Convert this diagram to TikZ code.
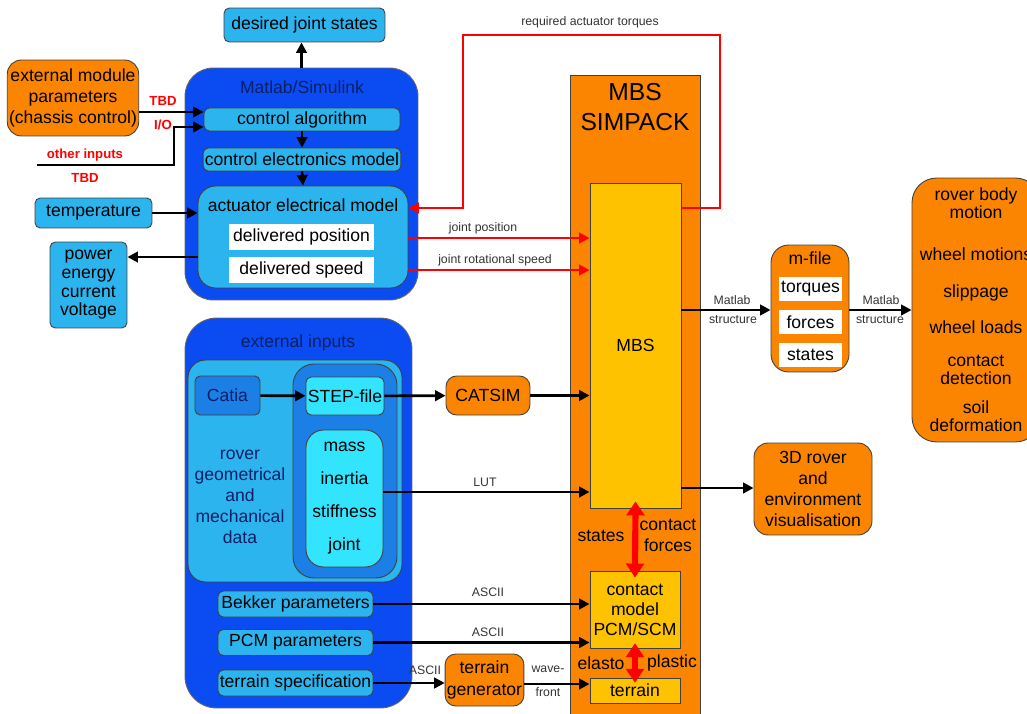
\documentclass[tikz,border=0pt]{standalone}
\usepackage{fontspec}
\setmainfont{Liberation Sans}
\usetikzlibrary{arrows.meta, positioning, calc}
\definecolor{simblue}{HTML}{0A4CF2}
\definecolor{lightblue}{HTML}{2CB4EE}
\definecolor{midblue}{HTML}{1C7FE6}
\definecolor{aqua}{HTML}{33E4FF}
\definecolor{simorange}{HTML}{FB8500}
\definecolor{simyellow}{HTML}{FFC200}
\definecolor{navy}{HTML}{0B1F66}
\begin{document}
\begin{tikzpicture}[x=0.02cm, y=-0.02cm,
    bx/.style={draw=black!75, line width=0.5pt, rounded corners=3pt, inner sep=1pt, align=center, font=\fontsize{10}{12}\selectfont},
    lb/.style={bx, fill=lightblue},
    ob/.style={bx, fill=simorange},
    yb/.style={bx, fill=simyellow, rounded corners=0pt},
    wb/.style={bx, fill=white, draw=none, rounded corners=0pt},
    grp/.style={draw=black!60, fill=simblue, line width=0.5pt},
    txt/.style={align=center, font=\fontsize{10}{12}\selectfont},
    ttl/.style={txt, text=navy},
    lab/.style={align=center, font=\fontsize{7}{8}\selectfont, text=black!80},
    tbd/.style={font=\fontsize{7.5}{9}\selectfont\bfseries, text=red},
    arr/.style={-{Triangle[length=6pt,width=6pt]}, line width=1.5pt},
    rarr/.style={arr, red},
    dbl/.style={{Triangle[length=8pt,width=10pt]}-{Triangle[length=8pt,width=10pt]}, line width=3.5pt, red}]
    \useasboundingbox (0,0) rectangle (1027,713);
    % Matlab/Simulink part
    \node[lb, minimum width=3.22cm, minimum height=0.68cm] (des) at (304.5,25) {desired joint states};
    \node[grp, rounded corners=16pt, minimum width=4.66cm, minimum height=4.64cm] (sim) at (301.5,184) {};
    \node[ttl] (simt) at (302,87) {Matlab/Simulink};
    \node[lb, minimum width=3.92cm, minimum height=0.46cm] (ctrl) at (302,119.5) {control algorithm};
    \node[lb, minimum width=3.92cm, minimum height=0.46cm] (elec) at (302,159.5) {control electronics model};
    \node[lb, rounded corners=10pt, minimum width=4.2cm, minimum height=2.04cm] (act) at (303,237) {};
    \node[txt] (actt) at (303,205) {actuator electrical model};
    \node[wb, minimum width=2.9cm, minimum height=0.52cm] (dpos) at (301.5,237) {delivered position};
    \node[wb, minimum width=2.9cm, minimum height=0.52cm] (dspd) at (301.5,270) {delivered speed};
    \draw[arr] (sim.north) -- (sim.north |- des.south);
    \draw[arr] (ctrl.south) -- (elec.north);
    \draw[arr] (elec.south) -- (act.north);
    % inputs and outputs on the left
    \node[ob, rounded corners=8pt, minimum width=2.6cm, minimum height=1.52cm] (ext) at (73,98) {external module\\parameters\\(chassis control)};
    \draw[arr] (ext.east |- 0,112) -- (ctrl.west |- 0,112);
    \node[tbd] (tbda) at (163,101) {TBD};
    \node[tbd] (io) at (163,125) {I/O};
    \coordinate (oin) at (37,165);
    \draw[arr] (oin) -| (174,127) -- (ctrl.west |- 0,127);
    \node[tbd] (othr) at (85,155) {other inputs};
    \node[tbd] (tbdb) at (85,178) {TBD};
    \node[lb, minimum width=2.34cm, minimum height=0.6cm] (temp) at (93.5,213) {temperature};
    \draw[arr] (temp) -- (temp -| act.west);
    \node[lb, minimum width=1.54cm, minimum height=1.72cm, font=\fontsize{10}{10.6}\selectfont] (pow) at (88.5,285) {power\\energy\\current\\voltage};
    \draw[arr] (act.west |- 0,257) -- (pow.east |- 0,257);
    % MBS SIMPACK column
    \node[ob, rounded corners=0pt, minimum width=2.6cm, minimum height=12.9cm] (simp) at (635,397.5) {};
    \node[align=center, font=\fontsize{14}{17}\selectfont] (simpt) at (635,107) {MBS\\SIMPACK};
    \node[yb, minimum width=1.82cm, minimum height=6.5cm] (mbs) at (635.5,345.5) {MBS};
    \node[yb, minimum width=1.8cm, minimum height=1.54cm, font=\fontsize{10}{11.4}\selectfont] (cm) at (635,609.5) {contact\\model\\PCM/SCM};
    \node[yb, minimum width=1.8cm, minimum height=0.5cm] (ter) at (635,690.5) {terrain};
    \draw[dbl, shorten <=-4pt, shorten >=-4pt] (mbs.south) -- (cm.north);
    \draw[dbl, shorten <=-3pt, shorten >=-3pt] (cm.south) -- (ter.north);
    \node[txt] (stat) at (601,536) {states};
    \node[txt] (cforce) at (668,535) {contact\\forces};
    \node[txt] (elast) at (601,663) {elasto};
    \node[txt] (plast) at (672,663) {plastic};
    % red signals
    \draw[rarr] (mbs.east |- 0,208) -| (720,35) -| (463,208) -- (act.east |- 0,208);
    \node[lab] (reqt) at (590,22) {required actuator torques};
    \draw[rarr] (act.east |- 0,238) -- (mbs.west |- 0,238);
    \node[lab] (jpos) at (483,228) {joint position};
    \draw[rarr] (act.east |- 0,270) -- (mbs.west |- 0,270);
    \node[lab] (jspd) at (495,260) {joint rotational speed};
    % external inputs
    \node[grp, rounded corners=18pt, minimum width=4.54cm, minimum height=7.8cm] (ein) at (298.5,513) {};
    \node[ttl] (eint) at (298,343) {external inputs};
    \node[bx, fill=lightblue, rounded corners=10pt, minimum width=4.28cm, minimum height=4.44cm] (geo) at (295,471) {};
    \node[bx, fill=midblue, text=navy, minimum width=1.3cm, minimum height=0.78cm] (cat) at (227.5,395.5) {Catia};
    \node[bx, fill=midblue, rounded corners=12pt, minimum width=2.08cm, minimum height=4.28cm] (cad) at (345,471) {};
    \node[bx, fill=aqua, minimum width=1.56cm, minimum height=0.76cm] (step) at (345,396) {STEP-file};
    \node[bx, fill=aqua, rounded corners=10pt, minimum width=1.54cm, minimum height=2.74cm, font=\fontsize{10}{18.8}\selectfont] (mass) at (344.5,498.5) {mass\\inertia\\stiffness\\joint};
    \node[ttl] (geot) at (240,497) {rover\\geometrical\\and\\mechanical\\data};
    \node[lb, minimum width=3.1cm, minimum height=0.52cm] (bek) at (295.5,604) {Bekker parameters};
    \node[lb, minimum width=3.1cm, minimum height=0.52cm] (pcm) at (295.5,642.5) {PCM parameters};
    \node[lb, minimum width=3.1cm, minimum height=0.52cm] (tspec) at (295.5,683) {terrain specification};
    \node[ob, rounded corners=6pt, minimum width=1.68cm, minimum height=0.78cm] (catsim) at (488,395.5) {CATSIM};
    \node[ob, rounded corners=6pt, minimum width=1.54cm, minimum height=1.04cm, font=\fontsize{10}{12.5}\selectfont] (tgen) at (484.5,680) {terrain\\generator};
    \draw[arr] (cat) -- (step);
    \draw[arr] (step) -- (catsim);
    \draw[arr] (catsim) -- (catsim -| mbs.west);
    \draw[arr] (mass.east |- 0,492) -- (mbs.west |- 0,492);
    \node[lab] (lut) at (485,482) {LUT};
    \draw[arr] (bek) -- (bek -| cm.west);
    \node[lab] (asa) at (488,592) {ASCII};
    \draw[arr] (pcm) -- (pcm -| cm.west);
    \node[lab] (asb) at (488,632) {ASCII};
    \draw[arr] (tspec) -- (tspec -| tgen.west);
    \node[lab] (asc) at (425,670) {ASCII};
    \draw[arr] (tgen.east |- 0,684) -- (ter.west |- 0,684);
    \node[lab] (wave) at (548,669) {wave-};
    \node[lab] (front) at (548,692) {front};
    % outputs on the right
    \node[ob, rounded corners=10pt, minimum width=1.56cm, minimum height=2.54cm] (mfile) at (810,308.5) {};
    \node[txt] (mft) at (810,258) {m-file};
    \node[wb, minimum width=1.26cm, minimum height=0.48cm] (torq) at (810.5,289) {torques};
    \node[wb, minimum width=1.26cm, minimum height=0.48cm] (forc) at (810.5,322) {forces};
    \node[wb, minimum width=1.26cm, minimum height=0.48cm] (stts) at (810.5,355) {states};
    \node[ob, rounded corners=14pt, minimum width=2.56cm, minimum height=5.28cm, font=\fontsize{10}{10.2}\selectfont] (rov) at (976,310) {rover body\\motion\\[13.7pt]wheel motions\\[10.8pt]slippage\\[10.3pt]wheel loads\\[8.6pt]contact\\detection\\[6.3pt]soil\\deformation};
    \node[ob, rounded corners=8pt, minimum width=2.36cm, minimum height=1.84cm] (vis) at (813,489) {3D rover\\and\\environment\\visualisation};
    \draw[arr] (mbs.east |- 0,310) -- (mfile.west |- 0,310);
    \node[lab] (mla) at (732,300) {Matlab};
    \node[lab] (sta) at (733,320) {structure};
    \draw[arr] (mfile.east |- 0,310) -- (rov.west |- 0,310);
    \node[lab] (mlb) at (881,300) {Matlab};
    \node[lab] (stb) at (880,320) {structure};
    \draw[arr] (mbs.east |- 0,488) -- (vis.west |- 0,488);
\end{tikzpicture}
\end{document}
